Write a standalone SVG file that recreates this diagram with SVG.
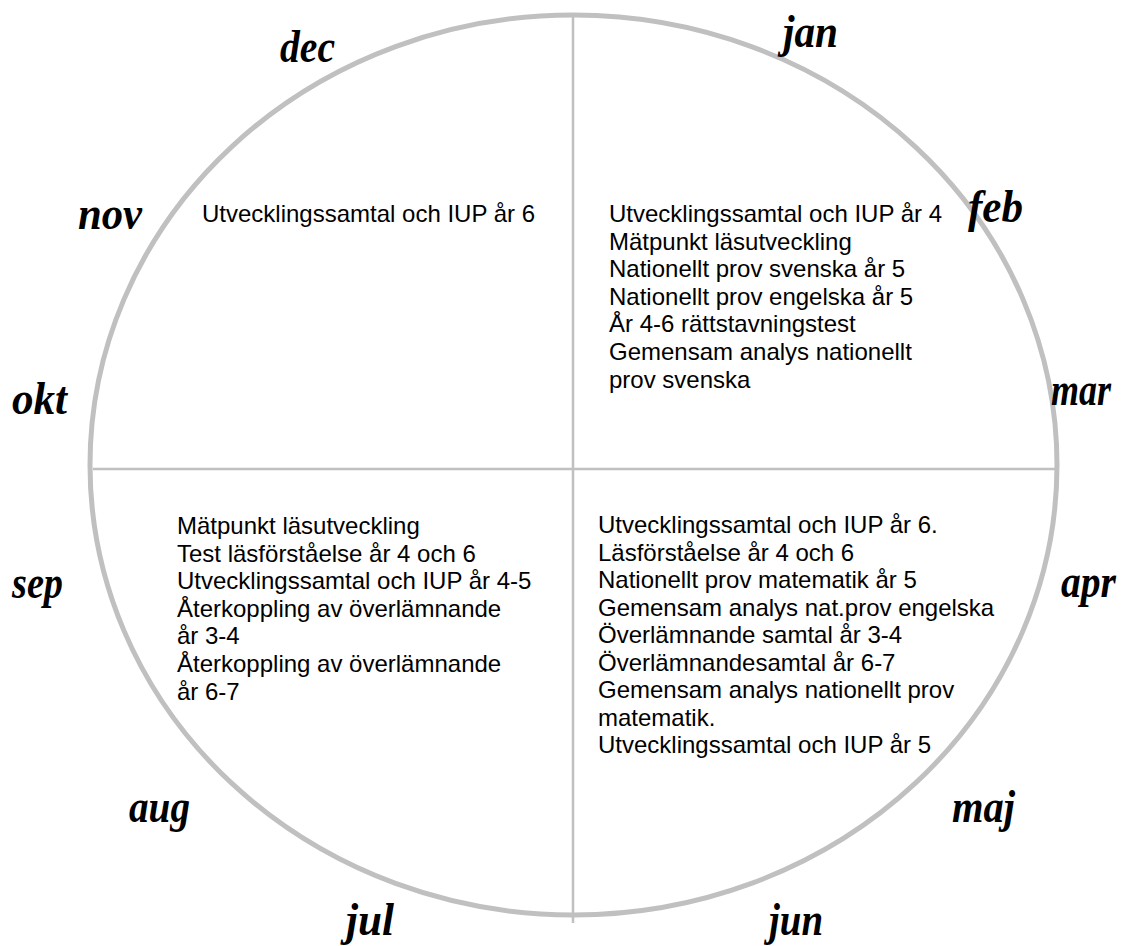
<svg xmlns="http://www.w3.org/2000/svg" width="1124" height="946" viewBox="0 0 1124 946">
<style>
.m{font-family:"Liberation Serif","Times New Roman",serif;font-style:italic;font-weight:bold;font-size:46px;fill:#000}
.t{font-family:"Liberation Sans",Arial,sans-serif;font-size:24px;fill:#000}
.g{stroke:#c0c0c0;fill:none}
</style>
<rect width="1124" height="946" fill="#fff"/>
<g id="frame">
<ellipse class="g" cx="573.5" cy="465" rx="483.5" ry="450" stroke-width="5"/>
<line class="g" x1="573" y1="17" x2="573" y2="923" stroke-width="2.5"/>
<line class="g" x1="93" y1="469" x2="1055" y2="469" stroke-width="2.5"/>
</g>
<g id="months">
<text class="m" x="280" y="62" textLength="55" lengthAdjust="spacingAndGlyphs">dec</text>
<text class="m" x="783" y="47" textLength="55" lengthAdjust="spacingAndGlyphs">jan</text>
<text class="m" x="968" y="222" textLength="55" lengthAdjust="spacingAndGlyphs">feb</text>
<text class="m" x="78" y="229" textLength="64" lengthAdjust="spacingAndGlyphs">nov</text>
<text class="m" x="12" y="414" textLength="55" lengthAdjust="spacingAndGlyphs">okt</text>
<text class="m" x="1051" y="405" font-size="40" textLength="60" lengthAdjust="spacingAndGlyphs">mar</text>
<text class="m" x="12" y="598" textLength="51" lengthAdjust="spacingAndGlyphs">sep</text>
<text class="m" x="1061" y="597" textLength="55" lengthAdjust="spacingAndGlyphs">apr</text>
<text class="m" x="129" y="822" textLength="61" lengthAdjust="spacingAndGlyphs">aug</text>
<text class="m" x="952" y="822" textLength="63" lengthAdjust="spacingAndGlyphs">maj</text>
<text class="m" x="346" y="935" textLength="48" lengthAdjust="spacingAndGlyphs">jul</text>
<text class="m" x="769" y="935" textLength="54" lengthAdjust="spacingAndGlyphs">jun</text>
</g>
<g id="q-nw">
<text class="t" x="202" y="222">Utvecklingssamtal och IUP år 6</text>
</g>
<g id="q-ne">
<text class="t" x="609" y="222">Utvecklingssamtal och IUP år 4</text>
<text class="t" x="609" y="249.6">Mätpunkt läsutveckling</text>
<text class="t" x="609" y="277.2">Nationellt prov svenska år 5</text>
<text class="t" x="609" y="304.8">Nationellt prov engelska år 5</text>
<text class="t" x="609" y="332.4">År 4-6 rättstavningstest</text>
<text class="t" x="609" y="360">Gemensam analys nationellt</text>
<text class="t" x="609" y="387.6">prov svenska</text>
</g>
<g id="q-sw">
<text class="t" x="177" y="534">Mätpunkt läsutveckling</text>
<text class="t" x="177" y="561.6">Test läsförståelse år 4 och 6</text>
<text class="t" x="177" y="589.2">Utvecklingssamtal och IUP år 4-5</text>
<text class="t" x="177" y="616.8">Återkoppling av överlämnande</text>
<text class="t" x="177" y="644.4">år 3-4</text>
<text class="t" x="177" y="672">Återkoppling av överlämnande</text>
<text class="t" x="177" y="699.6">år 6-7</text>
</g>
<g id="q-se">
<text class="t" x="598" y="533">Utvecklingssamtal och IUP år 6.</text>
<text class="t" x="598" y="560.5">Läsförståelse år 4 och 6</text>
<text class="t" x="598" y="588">Nationellt prov matematik år 5</text>
<text class="t" x="598" y="615.5">Gemensam analys nat.prov engelska</text>
<text class="t" x="598" y="643">Överlämnande samtal år 3-4</text>
<text class="t" x="598" y="670.5">Överlämnandesamtal år 6-7</text>
<text class="t" x="598" y="698">Gemensam analys nationellt prov</text>
<text class="t" x="598" y="725.5">matematik.</text>
<text class="t" x="598" y="753">Utvecklingssamtal och IUP år 5</text>
</g>
</svg>
